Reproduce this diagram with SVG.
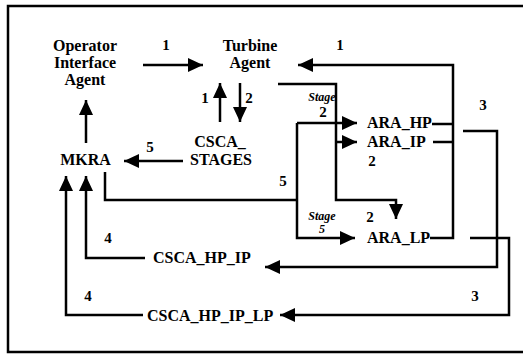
<svg xmlns="http://www.w3.org/2000/svg" width="523" height="356" viewBox="0 0 523 356">
<style>
.t{font-family:"Liberation Serif","Times New Roman",serif;font-weight:bold;font-size:16px;fill:#000;text-anchor:middle}
.n{font-family:"Liberation Serif","Times New Roman",serif;font-weight:bold;font-size:15px;fill:#000;text-anchor:middle}
.s{font-family:"Liberation Serif","Times New Roman",serif;font-weight:bold;font-style:italic;font-size:12px;fill:#000;text-anchor:middle}
.c{fill:none;stroke:#000;stroke-width:2.5}
</style>
<defs>
<marker id="ah" markerUnits="userSpaceOnUse" markerWidth="16" markerHeight="14" refX="15" refY="7" orient="auto">
<path d="M0,0 L15,7 L0,14 z" fill="#000"/>
</marker>
</defs>
<rect width="523" height="356" fill="#fff"/>
<path d="M523,6 H8 V352 H523" fill="none" stroke="#000" stroke-width="2.5"/>

<g id="operator"><text class="t" x="85" y="51">Operator</text><text class="t" x="85" y="68">Interface</text><text class="t" x="85" y="85">Agent</text></g>
<g id="turbine"><text class="t" x="250" y="51">Turbine</text><text class="t" x="250" y="68">Agent</text></g>
<g id="csca-stages"><text class="t" x="220" y="147">CSCA_</text><text class="t" x="221" y="165">STAGES</text></g>
<g id="mkra"><text class="t" x="85.5" y="165">MKRA</text></g>
<g id="ara-hp"><text class="t" x="399" y="128" style="text-anchor:start" transform="translate(-32,0)">ARA_HP</text></g>
<g id="ara-ip"><text class="t" x="367" y="147" style="text-anchor:start">ARA_IP</text></g>
<g id="ara-lp"><text class="t" x="367" y="243" style="text-anchor:start">ARA_LP</text></g>
<g id="csca-hp-ip"><text class="t" x="153" y="263" style="text-anchor:start">CSCA_HP_IP</text></g>
<g id="csca-hp-ip-lp"><text class="t" x="147" y="321" style="text-anchor:start">CSCA_HP_IP_LP</text></g>

<g id="connectors">
<path class="c" d="M143,65 H203" marker-end="url(#ah)"/>
<path class="c" d="M220,122 V83" marker-end="url(#ah)"/>
<path class="c" d="M240,83 V122" marker-end="url(#ah)"/>
<path class="c" d="M183,161 H124" marker-end="url(#ah)"/>
<path class="c" d="M86,143 V100" marker-end="url(#ah)"/>
<path class="c" d="M432,124 H453 M433,142 H453"/>
<path class="c" d="M430,238 H453 V65 H298" marker-end="url(#ah)"/>
<path class="c" d="M278,84 H336 V200 H396 V219" marker-end="url(#ah)"/>
<path class="c" d="M336,142 H357" marker-end="url(#ah)"/>
<path class="c" d="M105,172 V200 H297"/>
<path class="c" d="M297,123 V238 H355" marker-end="url(#ah)"/>
<path class="c" d="M297,123 H357" marker-end="url(#ah)"/>
<path class="c" d="M463,131 H497 V267 H265" marker-end="url(#ah)"/>
<path class="c" d="M470,238 H509 V315 H280" marker-end="url(#ah)"/>
<path class="c" d="M145,258 H86 V176" marker-end="url(#ah)"/>
<path class="c" d="M143,315 H66 V176" marker-end="url(#ah)"/>
</g>

<g id="labels">
<text class="n" x="166" y="50">1</text>
<text class="n" x="340" y="50">1</text>
<text class="n" x="205" y="103">1</text>
<text class="n" x="249" y="103">2</text>
<text class="n" x="150" y="152">5</text>
<text class="s" x="322" y="101">Stage</text>
<text class="n" x="323" y="117">2</text>
<text class="n" x="372" y="166">2</text>
<text class="n" x="283" y="186">5</text>
<text class="s" x="322" y="220">Stage</text>
<text class="s" x="322" y="233">5</text>
<text class="n" x="370" y="222">2</text>
<text class="n" x="483" y="110">3</text>
<text class="n" x="475" y="301">3</text>
<text class="n" x="108" y="243">4</text>
<text class="n" x="88" y="301">4</text>
</g>
</svg>
